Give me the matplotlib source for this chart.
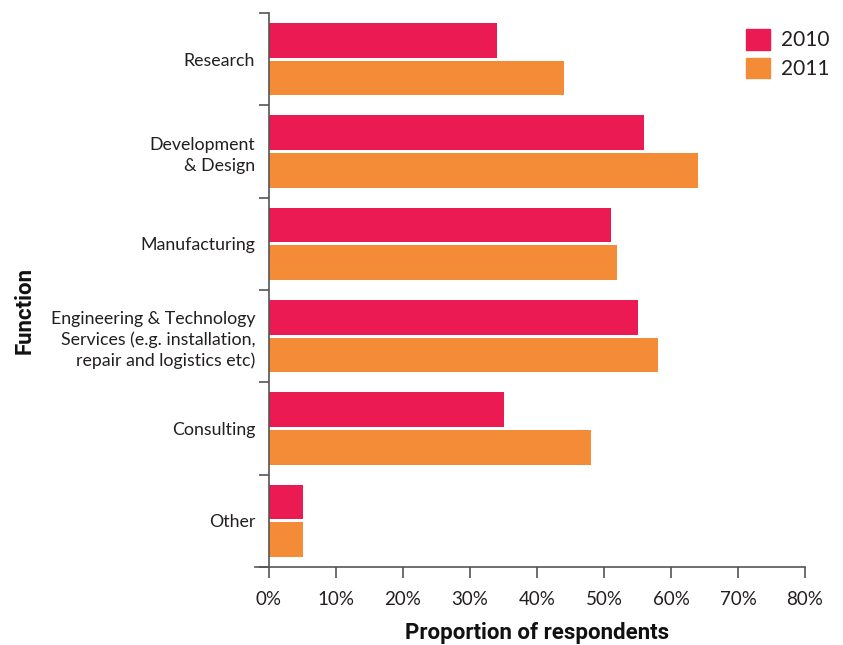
import matplotlib
matplotlib.use("Agg")
import matplotlib.pyplot as plt
from matplotlib.lines import Line2D
from matplotlib.patches import Patch
import numpy as np

categories = [
    "Research",
    "Development\n& Design",
    "Manufacturing",
    "Engineering & Technology\nServices (e.g. installation,\nrepair and logistics etc)",
    "Consulting",
    "Other",
]
values_2010 = [34, 56, 51, 55, 35, 5]
values_2011 = [44, 64, 52, 58, 48, 5]
series_names = ["2010", "2011"]
xtick_values = [0, 10, 20, 30, 40, 50, 60, 70, 80]

RED = "#EC1A52"
ORANGE = "#F48B37"
AXIS = "#555555"
TEXT = "#231F20"

plt.rcParams["font.family"] = ["Lato", "DejaVu Sans"]
label_font = ["Liberation Sans Narrow", "Roboto", "DejaVu Sans"]

fig = plt.figure(figsize=(8.43, 6.45), dpi=100)
ax = fig.add_axes([269 / 843, 1 - 567 / 645, (805 - 269) / 843, (567 - 13) / 645])

n = len(categories)
centers = np.arange(n) + 0.5
bar_h = 0.375
offset = bar_h / 2 + 0.017

ax.barh(centers - offset, values_2010, height=bar_h, color=RED, label=series_names[0])
ax.barh(centers + offset, values_2011, height=bar_h, color=ORANGE, label=series_names[1])

ax.set_ylim(n, 0)
ax.set_xlim(0, 80)

# category boundaries carry the ticks, labels sit at the centres
ax.set_yticks(np.arange(n + 1))
ax.set_yticklabels([])
ax.set_yticks(centers, minor=True)
ax.set_yticklabels(categories, minor=True, fontsize=12.8, color=TEXT, ha="right",
                   linespacing=1.35)
ax.tick_params(axis="y", which="minor", length=0, pad=10)
ax.tick_params(axis="y", which="major", length=7, width=1.2, color=AXIS)

ax.set_xticks(xtick_values)
ax.set_xticklabels([f"{v}%" for v in xtick_values], fontsize=13.5, color=TEXT)
ax.tick_params(axis="x", length=8, width=1.2, color=AXIS, pad=9)

for side in ("top", "right"):
    ax.spines[side].set_visible(False)
for side in ("left", "bottom"):
    ax.spines[side].set_color(AXIS)
    ax.spines[side].set_linewidth(1.2)

# bottom axis line runs a little past the left spine
ax.add_line(Line2D([-14 / 536, 0], [0, 0], transform=ax.transAxes,
                   color=AXIS, linewidth=1.2, clip_on=False))

ax.set_xlabel("Proportion of respondents", fontsize=16, fontweight="bold",
              family=label_font, color="#111111", labelpad=10)
fig.text(25 / 843, 1 - 310 / 645, "Function", rotation=90, fontsize=16,
         fontweight="bold", family=label_font, color="#111111",
         ha="center", va="center")

handles = [Patch(color=RED), Patch(color=ORANGE)]
ax.legend(handles, series_names, loc="upper right", bbox_to_anchor=(1.08, 1.005),
          frameon=False, fontsize=15, handlelength=1.15, handleheight=1.15,
          handletextpad=0.5, labelspacing=0.35, labelcolor=TEXT)

fig.savefig("out.png", dpi=100)
